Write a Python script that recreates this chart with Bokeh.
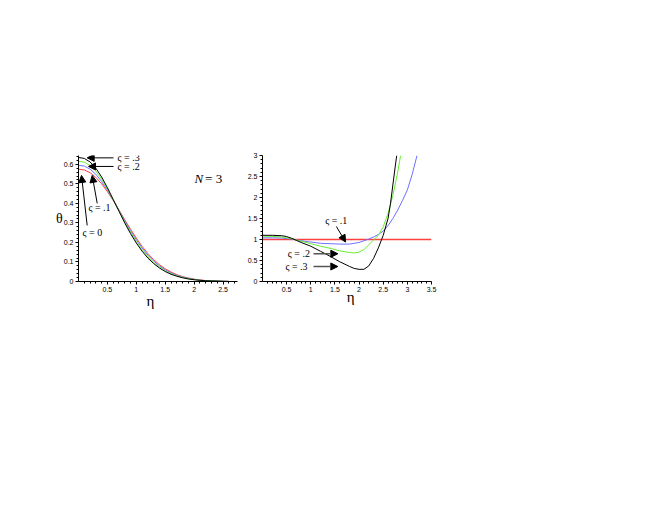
from bokeh.plotting import figure
from bokeh.layouts import row
from bokeh.models import (Range1d, FixedTicker, CustomJSTickFormatter, Label,
                          Arrow, NormalHead)
from bokeh.embed import file_html
from bokeh.resources import INLINE
import numpy as np

# ---------------- data: left panel (theta vs eta) ----------------
eta_left = [0.0, 0.1, 0.2, 0.3, 0.4, 0.5, 0.6, 0.7, 0.8, 0.9, 1.0, 1.1, 1.2, 1.3,
            1.4, 1.5, 1.6, 1.7, 1.8, 1.9, 2.0, 2.1, 2.2, 2.3, 2.4, 2.5, 2.6]
theta_s0 = [0.575, 0.571, 0.557, 0.533, 0.500, 0.460, 0.415, 0.366, 0.316, 0.268,
            0.222, 0.180, 0.143, 0.112, 0.086, 0.065, 0.048, 0.035, 0.025, 0.018,
            0.012, 0.008, 0.005, 0.003, 0.002, 0.001, 0.000]
theta_s1 = [0.595, 0.591, 0.575, 0.549, 0.512, 0.467, 0.417, 0.364, 0.311, 0.260,
            0.214, 0.172, 0.135, 0.105, 0.080, 0.060, 0.044, 0.032, 0.023, 0.016,
            0.011, 0.007, 0.004, 0.003, 0.002, 0.001, 0.000]
theta_s2 = [0.615, 0.611, 0.594, 0.565, 0.524, 0.474, 0.418, 0.362, 0.305, 0.252,
            0.205, 0.163, 0.127, 0.098, 0.074, 0.055, 0.040, 0.029, 0.021, 0.014,
            0.010, 0.006, 0.004, 0.003, 0.002, 0.001, 0.000]
theta_s3 = [0.635, 0.630, 0.612, 0.580, 0.535, 0.480, 0.420, 0.360, 0.300, 0.245,
            0.197, 0.155, 0.120, 0.092, 0.069, 0.051, 0.037, 0.027, 0.019, 0.013,
            0.009, 0.006, 0.004, 0.003, 0.002, 0.001, 0.001]

# ---------------- data: right panel ----------------
red_eta = [0.0, 3.5]
red_val = [1.0, 1.0]
blue_eta = [0.0, 0.2, 0.4, 0.6, 0.7, 0.8, 1.0, 1.2, 1.4, 1.6, 1.8, 2.0, 2.1, 2.2,
            2.3, 2.4, 2.5, 2.6, 2.7, 2.8, 2.9, 3.0, 3.1, 3.2]
blue_val = [1.04, 1.04, 1.035, 1.01, 0.99, 0.97, 0.94, 0.91, 0.90, 0.89, 0.89, 0.93,
            0.97, 1.01, 1.06, 1.12, 1.20, 1.33, 1.50, 1.70, 1.93, 2.18, 2.55, 3.0]
green_eta = [0.0, 0.2, 0.4, 0.6, 0.7, 0.8, 1.0, 1.2, 1.4, 1.6, 1.8, 1.9, 2.0, 2.1,
             2.2, 2.3, 2.4, 2.5, 2.6, 2.7, 2.8, 2.86]
green_val = [1.08, 1.075, 1.06, 1.02, 0.99, 0.96, 0.90, 0.84, 0.79, 0.73, 0.69, 0.68,
             0.70, 0.76, 0.87, 0.99, 1.10, 1.30, 1.62, 2.05, 2.60, 3.0]
black_eta = [0.0, 0.2, 0.4, 0.5, 0.6, 0.7, 0.8, 1.0, 1.2, 1.4, 1.6, 1.8, 1.9, 2.0,
             2.1, 2.2, 2.3, 2.4, 2.5, 2.6, 2.65, 2.7, 2.75, 2.78]
black_val = [1.10, 1.10, 1.09, 1.07, 1.03, 0.98, 0.93, 0.84, 0.72, 0.60, 0.47, 0.36,
             0.31, 0.29, 0.29, 0.37, 0.55, 0.80, 1.10, 1.50, 1.85, 2.30, 2.75, 3.0]

# tick labels
left_xticks = [0.5, 1, 1.5, 2, 2.5]
left_yticks = [0, 0.1, 0.2, 0.3, 0.4, 0.5, 0.6]
right_xticks = [0.5, 1, 1.5, 2, 2.5, 3, 3.5]
right_yticks = [0, 0.5, 1, 1.5, 2, 2.5, 3]

RED, BLUE, GREEN, BLACK = "#ff4040", "#7070ff", "#66ee33", "#000000"
SERIF = "Liberation Serif"
SANS = "Liberation Sans"

fmt = CustomJSTickFormatter(code="return String(Math.round(tick*10)/10);")


def style(p, xt, yt, xminor, yminor):
    p.outline_line_color = None
    p.xgrid.visible = False
    p.ygrid.visible = False
    for ax, t, mn in ((p.xaxis[0], xt, xminor), (p.yaxis[0], yt, yminor)):
        ax.ticker = FixedTicker(ticks=t, minor_ticks=mn)
        ax.formatter = fmt
        ax.axis_line_color = "black"
        ax.axis_line_width = 1
        ax.major_tick_out = 3
        ax.major_tick_in = 0
        ax.minor_tick_out = 2
        ax.minor_tick_in = 0
        ax.major_label_text_font = SANS
        ax.major_label_text_font_size = "7px"
        ax.major_label_text_color = "black"
        ax.major_label_standoff = 2
        ax.major_tick_line_color = "black"
        ax.minor_tick_line_color = "black"
        ax.axis_label_text_font = SERIF
        ax.axis_label_text_font_style = "normal"
        ax.axis_label_text_color = "black"


TOP, FRAME_H, BOTTOM = 155, 126, 60
H = TOP + FRAME_H + BOTTOM

# ---------------- left figure ----------------
p1 = figure(width=244, height=H, output_backend="svg", toolbar_location=None,
            x_range=Range1d(0, 2.75), y_range=Range1d(0, 0.645),
            min_border_left=78, min_border_right=7,
            min_border_top=TOP, min_border_bottom=BOTTOM)
style(p1, left_xticks, left_yticks,
      list(np.round(np.arange(0.1, 2.75, 0.1), 2)),
      list(np.round(np.arange(0.02, 0.645, 0.02), 3)))

p1.xaxis.axis_label = "η\u00a0\u00a0\u00a0\u00a0"
p1.xaxis.axis_label_text_font_size = "15px"
p1.xaxis.axis_label_standoff = -2
p1.yaxis.axis_label = "θ"
p1.yaxis.axis_label_orientation = "horizontal"
p1.yaxis.axis_label_text_font_size = "14px"
p1.yaxis.axis_label_standoff = -2

p1.line(eta_left, theta_s0, line_color=RED, line_width=1)
p1.line(eta_left, theta_s1, line_color=BLUE, line_width=1)
p1.line(eta_left, theta_s2, line_color=GREEN, line_width=1)
p1.line(eta_left, theta_s3, line_color=BLACK, line_width=1)


def arrow(p, x0, y0, x1, y1, color="black", w=1):
    p.add_layout(Arrow(end=NormalHead(size=7, fill_color="black", line_color="black"),
                       x_start=x0, y_start=y0, x_end=x1, y_end=y1,
                       line_color=color, line_width=w))


def lab(p, x, y, t, size="10px", font=SERIF, style_="normal", align="left",
        baseline="middle"):
    p.add_layout(Label(x=x, y=y, text=t, text_font=font, text_font_size=size,
                       text_font_style=style_, text_align=align,
                       text_baseline=baseline, text_color="black"))


arrow(p1, 0.606, 0.633, 0.15, 0.633)
lab(p1, 0.675, 0.633, "ς = .3")
arrow(p1, 0.606, 0.589, 0.173, 0.589)
lab(p1, 0.675, 0.589, "ς = .2")
arrow(p1, 0.324, 0.40, 0.237, 0.543)
lab(p1, 0.173, 0.379, "ς = .1")
arrow(p1, 0.15, 0.287, 0.052, 0.543)
lab(p1, 0.07, 0.251, "ς = 0")

lab(p1, 2.007, 0.526, "N", size="13px", style_="italic", baseline="alphabetic")
lab(p1, 2.19, 0.526, "= 3", size="13px", baseline="alphabetic")

# ---------------- right figure ----------------
p2 = figure(width=412, height=H, output_backend="svg", toolbar_location=None,
            x_range=Range1d(0, 3.5), y_range=Range1d(0, 3),
            min_border_left=18, min_border_right=225,
            min_border_top=TOP, min_border_bottom=BOTTOM)
style(p2, right_xticks, right_yticks,
      list(np.round(np.arange(0.1, 3.5, 0.1), 2)),
      list(np.round(np.arange(0.1, 3.0, 0.1), 2)))

p2.xaxis.axis_label = "\u00a0\u00a0η"
p2.xaxis.axis_label_text_font_size = "15px"
p2.xaxis.axis_label_standoff = -6

p2.line(red_eta, red_val, line_color=RED, line_width=1.4)
p2.line(blue_eta, blue_val, line_color=BLUE, line_width=1)
p2.line(green_eta, green_val, line_color=GREEN, line_width=1)
p2.line(black_eta, black_val, line_color=BLACK, line_width=1)

lab(p2, 1.30, 1.45, "ς = .1")
arrow(p2, 1.53, 1.31, 1.72, 0.94)
lab(p2, 0.524, 0.66, "ς = .2")
arrow(p2, 1.056, 0.66, 1.56, 0.66, color="#555555", w=1.5)
lab(p2, 0.476, 0.357, "ς = .3")
arrow(p2, 1.056, 0.357, 1.56, 0.357, color="#555555", w=1.5)

layout = row(p1, p2)
open("out.html", "w").write(file_html(layout, INLINE))
